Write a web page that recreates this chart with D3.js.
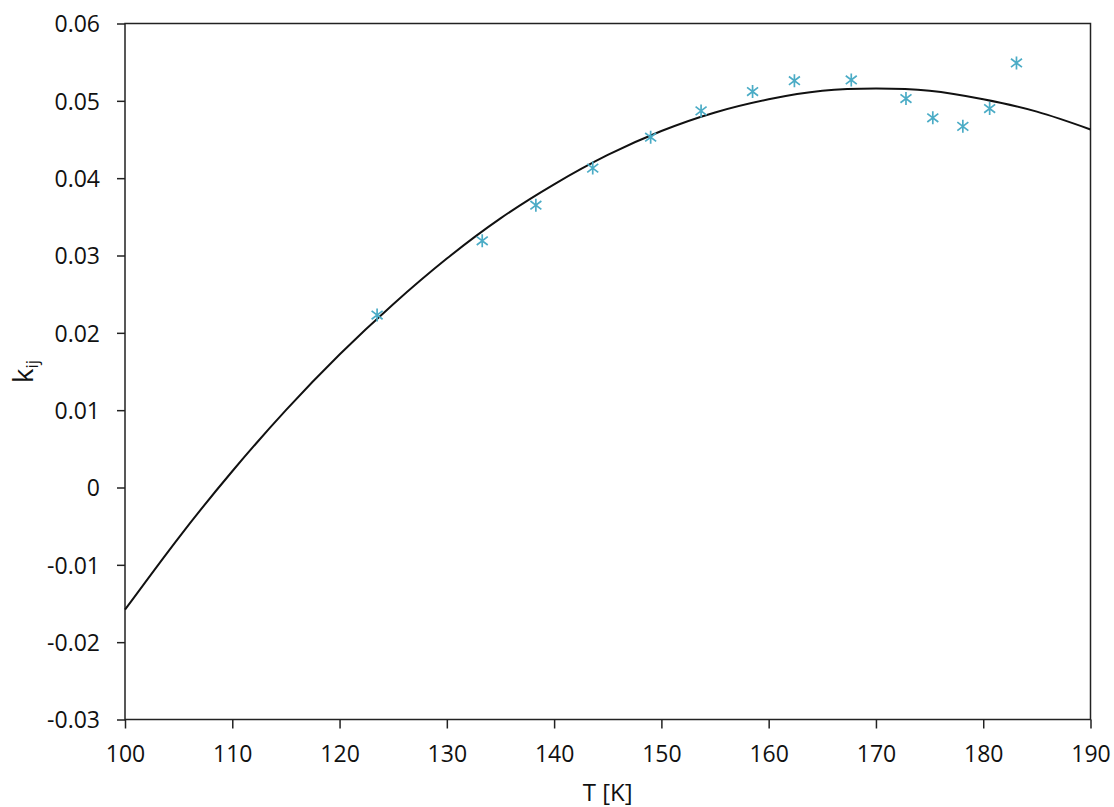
<!DOCTYPE html>
<html>
<head>
<meta charset="utf-8">
<script src="https://cdn.jsdelivr.net/npm/d3@7"></script>
<style>
  html, body { margin: 0; padding: 0; background: #fff; }
  svg text { font-family: "Open Sans", "Liberation Sans", sans-serif; fill: #111; }
</style>
</head>
<body>
<svg id="chart" width="1114" height="807"></svg>
<script>
// Measured data points (T [K], k_ij)
const pointT = [123.5, 133.3, 138.3, 143.6, 149.0, 153.7, 158.5, 162.4, 167.7, 172.8, 175.3, 178.1, 180.6, 183.1];
const pointK = [0.0223, 0.0319, 0.0365, 0.0413, 0.0453, 0.0487, 0.0512, 0.0526, 0.0527, 0.0503, 0.0478, 0.0467, 0.0490, 0.0549];

// Fitted curve
const fitT = [100, 105, 110, 115, 120, 125, 130, 135, 140, 145, 150, 155, 160, 165, 170, 175, 180, 185, 190];
const fitK = [-0.0158, -0.0065, 0.0021, 0.0100, 0.0172, 0.0237, 0.0296, 0.0348, 0.0392, 0.0430, 0.0461, 0.0485, 0.0502, 0.0513, 0.0516, 0.0513, 0.0502, 0.0486, 0.0463];

// Axis ticks
const xTicks = [100, 110, 120, 130, 140, 150, 160, 170, 180, 190];
const yTicks = [-0.03, -0.02, -0.01, 0, 0.01, 0.02, 0.03, 0.04, 0.05, 0.06];
const yTickLabels = ["-0.03", "-0.02", "-0.01", "0", "0.01", "0.02", "0.03", "0.04", "0.05", "0.06"];

const W = 1114, H = 807;
const m = { left: 125, right: 23.5, top: 23.5, bottom: 87.5 };
const iw = W - m.left - m.right, ih = H - m.top - m.bottom;

const svg = d3.select("#chart");
const g = svg.append("g").attr("transform", `translate(${m.left},${m.top})`);

const x = d3.scaleLinear().domain([100, 190]).range([0, iw]);
const y = d3.scaleLinear().domain([-0.03, 0.06]).range([ih, 0]);

const axisColor = "#222";
const fmtY = (v, i) => yTickLabels[i];

// X axis
const xa = g.append("g").attr("transform", `translate(0,${ih})`)
  .call(d3.axisBottom(x).tickValues(xTicks).tickSize(9).tickPadding(17).tickFormat(d3.format("d")));
// Y axis
const ya = g.append("g")
  .call(d3.axisLeft(y).tickValues(yTicks).tickSize(8).tickPadding(17).tickFormat(fmtY));

[xa, ya].forEach(a => {
  a.select(".domain").remove();
  a.selectAll(".tick line").attr("stroke", axisColor).attr("stroke-width", 1.5);
  a.selectAll(".tick text").style("font-size", "23px").attr("fill", "#111");
});
ya.selectAll(".tick text").attr("dy", "0.36em");

// Frame
g.append("rect").attr("x", 0).attr("y", 0).attr("width", iw).attr("height", ih)
  .attr("fill", "none").attr("stroke", axisColor).attr("stroke-width", 1.5);

// Fitted curve
const line = d3.line().x(d => x(d[0])).y(d => y(d[1])).curve(d3.curveNatural);
g.append("path").datum(fitT.map((t, i) => [t, fitK[i]]))
  .attr("d", line).attr("fill", "none").attr("stroke", "#111").attr("stroke-width", 2);

// Star markers
const star = "M0,-6.5L0,6.5M-5.5,-4.2L5.5,4.2M-5.5,4.2L5.5,-4.2";
g.selectAll(".pt").data(pointT.map((t, i) => [t, pointK[i]])).enter()
  .append("path").attr("class", "pt")
  .attr("transform", d => `translate(${x(d[0])},${y(d[1])})`)
  .attr("d", star).attr("fill", "none").attr("stroke", "#4BACC6").attr("stroke-width", 1.7);

// Axis titles
svg.append("text").attr("x", m.left + iw / 2).attr("y", 801)
  .attr("text-anchor", "middle").style("font-size", "24px").text("T [K]");

const yl = svg.append("text")
  .attr("transform", `translate(33,${m.top + ih / 2}) rotate(-90)`)
  .attr("text-anchor", "middle").style("font-size", "28px");
yl.append("tspan").text("k");
yl.append("tspan").attr("dy", "0.32em").style("font-size", "17px").text("ij");
</script>
</body>
</html>
